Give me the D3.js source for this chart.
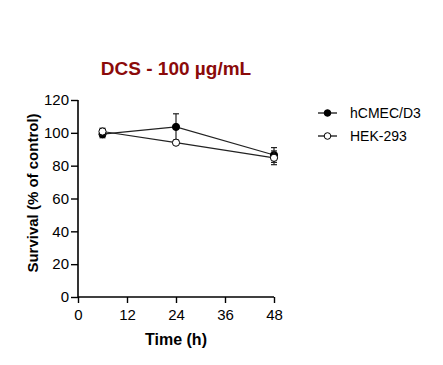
<!DOCTYPE html>
<html><head><meta charset="utf-8">
<script src="https://cdn.jsdelivr.net/npm/d3@7"></script>
<style>body{margin:0;background:#fff}svg{font-family:"Liberation Sans",Arial,sans-serif}</style>
</head><body>
<svg id="c" width="443" height="365"></svg>
<script>
const times = [6, 24, 48];
const hcmecMean = [99.2, 103.6, 86.5];
const hcmecErr = [2.2, 8, 4.5];
const hekMean = [100.8, 94, 84.8];
const hekErr = [2, 0.8, 4.2];
const xTicks = [0, 12, 24, 36, 48];
const yTicks = [0, 20, 40, 60, 80, 100, 120];
const seriesNames = ["hCMEC/D3", "HEK-293"];

const svg = d3.select("#c");
const x = d3.scaleLinear().domain([0, 48]).range([78, 274]);
const y = d3.scaleLinear().domain([0, 120]).range([297, 100]);

const gx = svg.append("g").attr("transform", "translate(0,297)")
  .call(d3.axisBottom(x).tickValues(xTicks).tickSize(6).tickPadding(6));
const gy = svg.append("g").attr("transform", "translate(78,0)")
  .call(d3.axisLeft(y).tickValues(yTicks).tickSize(7).tickPadding(2));
[gx, gy].forEach(g => {
  g.select(".domain").attr("stroke", "#000").attr("stroke-width", 1.6);
  g.selectAll(".tick line").attr("stroke", "#000").attr("stroke-width", 1.4);
  g.selectAll(".tick text").attr("font-size", 15).attr("fill", "#000")
    .attr("font-family", "Liberation Sans, Arial, sans-serif");
});
gy.select(".domain").attr("d", "M0,297V100");
gx.select(".domain").attr("d", "M78,0H274");

svg.append("text").attr("x", 176).attr("y", 75).attr("text-anchor", "middle")
  .attr("font-size", 19).attr("font-weight", "bold").attr("fill", "#8b0a0a")
  .text("DCS - 100 µg/mL");
svg.append("text").attr("x", 176).attr("y", 345).attr("text-anchor", "middle")
  .attr("font-size", 16).attr("font-weight", "bold").text("Time (h)");
svg.append("text").attr("transform", "translate(38,193) rotate(-90)").attr("text-anchor", "middle")
  .attr("font-size", 15).attr("font-weight", "bold").text("Survival (% of control)");

const series = [
  {name: seriesNames[0], mean: hcmecMean, err: hcmecErr, fill: "#000"},
  {name: seriesNames[1], mean: hekMean, err: hekErr, fill: "#fff"}
];
const line = d3.line().x(d => x(d[0])).y(d => y(d[1]));
series.forEach(s => {
  const pts = times.map((t, i) => [t, s.mean[i], s.err[i]]);
  const g = svg.append("g");
  g.append("path").attr("d", line(pts)).attr("fill", "none").attr("stroke", "#222").attr("stroke-width", 1.2);
  pts.forEach(p => {
    const cx = x(p[0]);
    const top = y(p[1] + p[2]);
    const bot = y(p[1] - p[2]);
    g.append("line").attr("x1", cx).attr("x2", cx).attr("y1", top).attr("y2", bot).attr("stroke", "#222").attr("stroke-width", 1.2);
    [top, bot].forEach(v => g.append("line").attr("x1", cx - 3).attr("x2", cx + 3).attr("y1", v).attr("y2", v).attr("stroke", "#222").attr("stroke-width", 1.2));
  });
  g.selectAll("circle").data(pts).join("circle")
    .attr("cx", d => x(d[0])).attr("cy", d => y(d[1])).attr("r", 3.6)
    .attr("fill", s.fill).attr("stroke", "#000").attr("stroke-width", 1);
});

// legend
series.forEach((s, i) => {
  const ly = 113 + i * 23;
  svg.append("line").attr("x1", 318).attr("x2", 337).attr("y1", ly).attr("y2", ly).attr("stroke", "#000").attr("stroke-width", 1.2);
  svg.append("circle").attr("cx", 327.5).attr("cy", ly).attr("r", 3.3).attr("fill", s.fill).attr("stroke", "#000").attr("stroke-width", 1);
  svg.append("text").attr("x", 350).attr("y", ly + 5).attr("font-size", 14).text(s.name);
});
</script>
</body></html>
